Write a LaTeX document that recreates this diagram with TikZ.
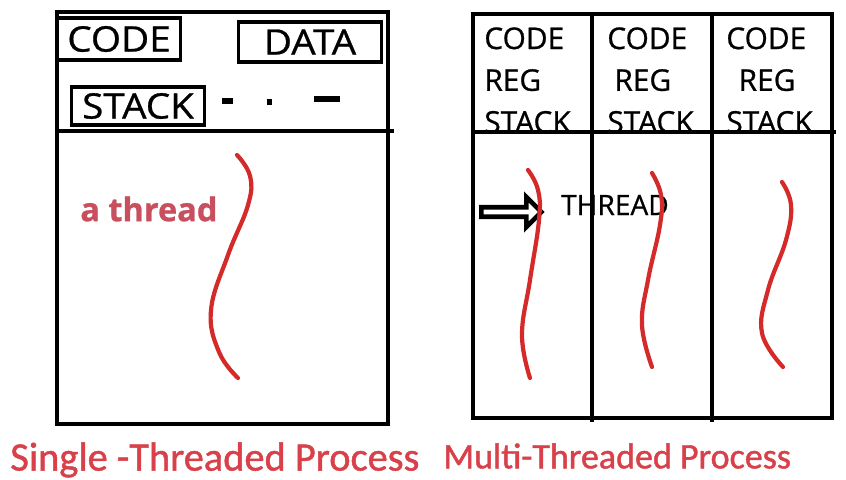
\documentclass[tikz,border=0pt]{standalone}
\usepackage{fontspec}
\setmainfont[FakeBold=0.8]{Open Sans}
\newfontfamily\capfont[FakeBold=1.2]{Carlito}
\newfontfamily\widefont[FakeBold=0.8,FakeStretch=1.1]{Open Sans}
\usetikzlibrary{shapes.arrows}
\definecolor{threadred}{HTML}{D42A2A}
\definecolor{capred}{HTML}{D8404A}
\definecolor{tagred}{HTML}{C8505E}

\begin{document}
\begin{tikzpicture}[x=0.02cm,y=-0.02cm,
    frame/.style={line width=2.6pt},
    field/.style={draw,line width=2.2pt,inner sep=0pt,font=\widefont\fontsize{20}{22}\selectfont},
    regs/.style={anchor=north west,align=left,inner sep=0pt,font=\fontsize{17}{23.8}\selectfont},
    thread/.style={draw=threadred,line width=2.4pt,line cap=round},
    caption/.style={anchor=west,inner sep=0pt,text=capred}]
  \useasboundingbox (0,0) rectangle (846,480);

  \draw[frame] (57,12) rectangle (388,424);
  \draw[frame] (57,131) -- (394,131);
  \node[field,minimum width=2.46cm,minimum height=0.84cm] (code) at (119,39) {CODE};
  \node[field,minimum width=2.86cm,minimum height=0.8cm] (data) at (310,42) {DATA};
  \node[field,minimum width=2.66cm,minimum height=0.76cm] (stack) at (138,106) {STACK};
  \draw[line width=3pt] (222,101) -- (233,101);
  \draw[line width=3pt] (267,102) -- (272,102);
  \draw[line width=3pt] (314,99) -- (340,99);
  \node[anchor=west,inner sep=0pt,text=tagred,font=\bfseries\fontsize{18.5}{20}\selectfont] (tag) at (80,209) {a thread};
  \draw[thread] plot[smooth,tension=0.7] coordinates {(237,155) (250,176) (248,205) (228,255) (211,310) (219,352) (238,378)};

  \draw[frame] (473,14) rectangle (832,418);
  \draw[frame] (592,14) -- (592,422);
  \draw[frame] (712,14) -- (712,422);
  \node[regs] (regs1) at (484,27) {CODE\\REG\\STACK};
  \node[regs] (regs2) at (607,27) {CODE\\\hspace{4pt}REG\\STACK};
  \node[regs] (regs3) at (726,27) {CODE\\\hspace{7pt}REG\\STACK};
  \draw[frame] (473,132) -- (836,132);

  \node[single arrow,draw,fill=white,line width=2.6pt,minimum height=1.2cm,minimum width=0.6cm,
    single arrow head extend=5pt,inner sep=1pt] (arr) at (509,212) {};
  \node[right of=arr,xshift=1.12cm,yshift=0.14cm,inner sep=0pt,font=\fontsize{16}{18}\selectfont] (thr) {THREAD};
  \draw[thread] plot[smooth,tension=0.7] coordinates {(528,170) (538,190) (539,220) (530,280) (522,335) (530,378)};
  \draw[thread] plot[smooth,tension=0.7] coordinates {(652,173) (661,195) (660,225) (648,280) (642,325) (652,367)};
  \draw[thread] plot[smooth,tension=0.7] coordinates {(782,182) (791,205) (786,240) (768,290) (762,333) (783,367)};

  \node[caption,font=\capfont\fontsize{23}{24}\selectfont] (single) at (10,460) {Single -Threaded Process};
  \node[caption,font=\capfont\fontsize{20.5}{24}\selectfont] (multi) at (443,456) {Multi-Threaded Process};
\end{tikzpicture}
\end{document}
